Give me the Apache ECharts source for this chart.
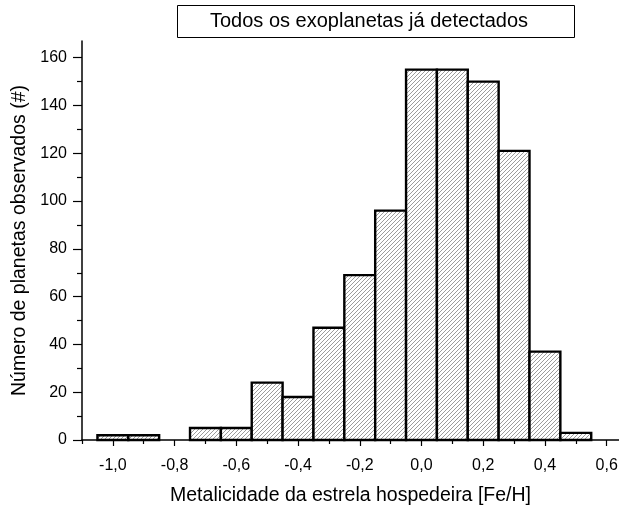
<!DOCTYPE html>
<html>
<head>
<meta charset="utf-8">
<script src="https://cdn.jsdelivr.net/npm/echarts@6/dist/echarts.min.js"></script>
<style>
  html, body { margin: 0; padding: 0; background: #ffffff; }
  #chart { width: 619px; height: 505px; }
</style>
</head>
<body>
<div id="chart"></div>
<script>
// Histogram of host-star metallicity: bin left edges, bin width and counts
const binStarts = [-1.05, -0.95, -0.85, -0.75, -0.65, -0.55, -0.45, -0.35, -0.25, -0.15, -0.05, 0.05, 0.15, 0.25, 0.35, 0.45];
const binWidth = 0.1;
const counts = [2, 2, 0, 5, 5, 24, 18, 47, 69, 96, 155, 155, 150, 121, 37, 3];

// Tick positions
const xMajorTicks = [-1.0, -0.8, -0.6, -0.4, -0.2, 0.0, 0.2, 0.4, 0.6];
const xMinorTicks = [-1.1, -0.9, -0.7, -0.5, -0.3, -0.1, 0.1, 0.3, 0.5];
const yMajorTicks = [0, 20, 40, 60, 80, 100, 120, 140, 160];
const yMinorTicks = [10, 30, 50, 70, 90, 110, 130, 150];

const titleText = 'Todos os exoplanetas já detectados';
const xName = 'Metalicidade da estrela hospedeira [Fe/H]';
const yName = 'Número de planetas observados (#)';

const FONT = '"Liberation Sans", Arial, sans-serif';

// Diagonal hatch tile for the bars
function makeHatch() {
  const c = document.createElement('canvas');
  c.width = 4; c.height = 4;
  const g = c.getContext('2d');
  g.fillStyle = '#ffffff';
  g.fillRect(0, 0, 4, 4);
  g.fillStyle = '#9c9c9c';
  for (let i = 0; i < 4; i++) g.fillRect(i, 3 - i, 1, 1);
  return c;
}
const hatch = { image: makeHatch(), repeat: 'repeat' };

const bins = binStarts.map((s, i) => [s, +(s + binWidth).toFixed(2), counts[i]]);

const X_MIN = -1.1, X_MAX = 0.64, Y_MIN = 0, Y_MAX = 167;

const chart = echarts.init(document.getElementById('chart'), null, { renderer: 'canvas' });

const axisLine = { show: true, onZero: false, lineStyle: { color: '#000', width: 1.5 } };
const tickStyle = { color: '#000', width: 1.2 };

chart.setOption({
  animation: false,
  backgroundColor: '#ffffff',
  grid: { left: 82, right: 0, top: 41, bottom: 65, containLabel: false, outerBoundsMode: 'none' },
  xAxis: [
    {
      type: 'value', min: X_MIN, max: X_MAX, position: 'bottom',
      axisLine: axisLine,
      axisTick: { show: true, customValues: xMajorTicks, length: 6, lineStyle: tickStyle },
      axisLabel: {
        customValues: xMajorTicks, margin: 18, color: '#000', fontSize: 16, fontFamily: FONT,
        formatter: v => v.toFixed(1).replace('.', ',').replace('-0,0', '0,0')
      },
      splitLine: { show: false },
      name: xName, nameLocation: 'middle', nameGap: 46,
      nameTextStyle: { color: '#000', fontSize: 19.5, fontFamily: FONT }
    },
    {
      type: 'value', min: X_MIN, max: X_MAX, position: 'bottom',
      axisLine: { show: false, onZero: false },
      axisTick: { show: true, customValues: xMinorTicks, length: 4, lineStyle: tickStyle },
      axisLabel: { show: false },
      splitLine: { show: false }
    }
  ],
  yAxis: [
    {
      type: 'value', min: Y_MIN, max: Y_MAX, position: 'left',
      axisLine: axisLine,
      axisTick: { show: true, customValues: yMajorTicks, length: 9, lineStyle: tickStyle },
      axisLabel: {
        customValues: yMajorTicks, margin: 15, color: '#000', fontSize: 16, fontFamily: FONT
      },
      splitLine: { show: false },
      name: yName, nameLocation: 'middle', nameGap: 51,
      nameTextStyle: { color: '#000', fontSize: 19.5, fontFamily: FONT }
    },
    {
      type: 'value', min: Y_MIN, max: Y_MAX, position: 'left',
      axisLine: { show: false, onZero: false },
      axisTick: { show: true, customValues: yMinorTicks, length: 5, lineStyle: tickStyle },
      axisLabel: { show: false },
      splitLine: { show: false }
    }
  ],
  series: [{
    type: 'custom',
    xAxisIndex: 0, yAxisIndex: 0,
    data: bins,
    encode: { x: [0, 1], y: 2 },
    clip: false,
    renderItem: function (params, api) {
      const x0 = api.value(0), x1 = api.value(1), v = api.value(2);
      if (!v) return null;
      const pTop = api.coord([x0, v]);
      const pBot = api.coord([x1, 0]);
      return {
        type: 'rect',
        shape: { x: pTop[0], y: pTop[1], width: pBot[0] - pTop[0], height: pBot[1] - pTop[1] },
        style: { fill: hatch, stroke: '#000', lineWidth: 2.4 }
      };
    }
  }],
  graphic: [
    {
      type: 'rect', left: 177, top: 5,
      shape: { width: 397, height: 32 },
      style: { fill: '#fff', stroke: '#000', lineWidth: 1 }
    },
    {
      type: 'text', x: 369, y: 21,
      style: { text: titleText, font: '20px ' + FONT, fill: '#000', align: 'center', verticalAlign: 'middle' }
    }
  ]
});
</script>
</body>
</html>
